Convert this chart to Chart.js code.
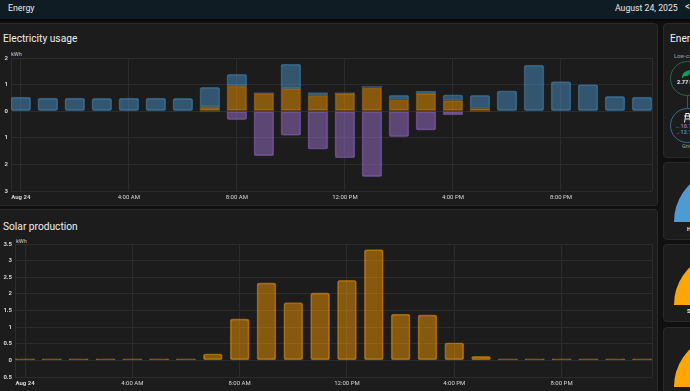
<!DOCTYPE html>
<html><head><meta charset="utf-8"><title>Energy</title>
<script src="https://cdn.jsdelivr.net/npm/chart.js@4/dist/chart.umd.min.js"></script>
<style>
html,body{margin:0;padding:0;width:690px;height:391px;overflow:hidden;background:#101010;font-family:Roboto,sans-serif;color:#e8e8e8}
.abs{position:absolute}
#hdr{left:0;top:0;width:690px;height:19px;background:#0f1c24;box-shadow:0 1px 2px #000}
.card{position:absolute;background:#1c1c1c;border:1px solid #2a2a2a;border-radius:4px;box-sizing:border-box}
.txt{position:absolute;white-space:nowrap}
.title{font-size:10.2px;line-height:14px;color:#eeeeee}
.unit{font-size:5.5px;line-height:6px;color:#d0d0d0}
.small{font-size:5.5px;line-height:7px}
canvas{position:absolute}
</style></head><body>
<div class="abs" id="hdr"></div>
<div class="txt" style="left:8px;top:2px;font-size:8.8px;line-height:12px">Energy</div>
<div class="txt" style="left:615px;top:2px;font-size:8.7px;line-height:12px">August 24, 2025</div>
<div class="txt" style="left:685px;top:1px;font-size:10px;line-height:12px">&lt;</div>

<div class="card" style="left:-3px;top:23px;width:661px;height:183px"></div>
<div class="card" style="left:-3px;top:209px;width:661px;height:190px"></div>
<div class="card" style="left:663px;top:23px;width:40px;height:135px"></div>
<div class="card" style="left:663px;top:162px;width:40px;height:78px"></div>
<div class="card" style="left:663px;top:244px;width:40px;height:78px"></div>
<div class="card" style="left:663px;top:327px;width:40px;height:80px"></div>

<div class="txt title" style="left:3px;top:32px">Electricity usage</div>
<div class="txt unit" style="left:11px;top:51px">kWh</div>
<div class="txt title" style="left:3px;top:220px">Solar production</div>
<div class="txt unit" style="left:16px;top:238px">kWh</div>
<div class="txt title" style="left:670px;top:32px">Energy distribution</div>

<div class="txt small" style="left:674px;top:53px;color:#a8a8a8">Low-carbon</div>
<div class="abs" style="left:670px;top:61px;width:35px;height:35px;border:1px solid #1f6b45;border-radius:50%;box-sizing:border-box"></div>
<svg class="abs" style="left:682px;top:70px" width="9" height="8" viewBox="0 0 9 8"><path d="M0 8C0 3 3 1 8 0 9 4 6 7 2 6L1 8Z" fill="#0f9d58"/></svg>
<div class="txt small" style="left:677px;top:79px;font-weight:700;color:#f0f0f0">2.77 kWh</div>
<div class="abs" style="left:687px;top:96px;width:1px;height:12px;background:#1f6b45"></div>
<div class="abs" style="left:670px;top:108px;width:35px;height:35px;border:1px solid #3d6a8f;border-radius:50%;box-sizing:border-box"></div>
<svg class="abs" style="left:683px;top:113px" width="9" height="10" viewBox="0 0 9 10"><path d="M2.5 0.5H6.5M1 3H8M3 .5 1.5 9.5M6 .5 7.5 9.5M2.5 6H6.5" stroke="#eeeeee" stroke-width="1" fill="none"/></svg>
<div class="txt small" style="left:675px;top:123px;font-weight:700;color:#8e6bc4">&#8592;10.1 kWh</div>
<div class="txt small" style="left:675px;top:129px;font-weight:700;color:#4a8fc0">&#8594;12.1 kWh</div>
<div class="txt small" style="left:682px;top:143px;color:#a8a8a8">Grid</div>
<div class="txt small" style="left:687px;top:226px;font-weight:700">H</div>
<div class="txt small" style="left:687px;top:308px;font-weight:700">S</div>

<canvas id="usage" style="left:0;top:50px"></canvas>
<canvas id="solar" style="left:0;top:236px"></canvas>
<canvas id="g1" style="left:674px;top:169px"></canvas>
<canvas id="g2" style="left:674px;top:252px"></canvas>
<canvas id="g3" style="left:674px;top:334px"></canvas>

<script>
const hours = [0,1,2,3,4,5,6,7,8,9,10,11,12,13,14,15,16,17,18,19,20,21,22,23];
const tickHours = [0,4,8,12,16,20];
const tickLabels = ['Aug 24','4:00 AM','8:00 AM','12:00 PM','4:00 PM','8:00 PM'];
const solarUsed = [0,0,0,0,0,0,0,0.16,0.95,0.68,0.85,0.61,0.67,0.89,0.44,0.67,0.41,0.11,0,0,0,0,0,0];
const gridImport = [0.53,0.49,0.49,0.48,0.49,0.49,0.48,0.74,0.44,0.02,0.92,0.09,0.03,0.05,0.16,0.09,0.21,0.49,0.77,1.73,1.11,1.0,0.56,0.53];
const gridReturn = [0,0,0,0,0,0,0,-0.03,-0.32,-1.68,-0.91,-1.43,-1.76,-2.46,-0.96,-0.71,-0.14,-0.01,0,0,0,0,0,0];
const solarProduction = [0.05,0.05,0.05,0.05,0.05,0.05,0.05,0.2,1.25,2.33,1.74,2.03,2.41,3.33,1.39,1.37,0.53,0.12,0.05,0.05,0.05,0.05,0.05,0.05];
const gaugeValues = [75,75,75];
const gaugeColors = ['#4d9bd4','#ffa600','#ffa600'];

const GRID = '#2c2c2c', TICK = '#d8d8d8';
const points = arr => arr.map((y,i)=>({x:hours[i],y}));
const frame = {id:'frame',afterDatasetsDraw(c){const a=c.chartArea,x=c.ctx;x.save();x.strokeStyle=GRID;x.lineWidth=1;x.beginPath();x.moveTo(Math.round(a.right)+.5,a.top);x.lineTo(Math.round(a.right)+.5,a.bottom);x.stroke();x.restore();}};

function axes(leftW, right, yOpts){
  return {
    x:{type:'linear',stacked:true,offset:false,min:-(leftW.off),max:23+right,
       afterBuildTicks:s=>{s.ticks=tickHours.map(v=>({value:v}));},
       afterFit:s=>{s.height=14;},
       grid:{offset:false,color:GRID,drawTicks:false},border:{display:false},
       ticks:{autoSkip:false,maxRotation:0,padding:3,color:TICK,
         font:c=>({family:'Roboto',size:6,weight:c.index===0?'bold':'normal'}),
         callback:v=>tickLabels[tickHours.indexOf(v)]}},
    y:Object.assign({stacked:true,
       afterFit:s=>{s.width=leftW.w;},
       grid:{color:GRID,drawTicks:false},border:{color:GRID},
       },yOpts)
  };
}
const base = {responsive:false,animation:false,events:[],plugins:{legend:{display:false},tooltip:{enabled:false}}};
function size(id,w,h){const c=document.getElementById(id);c.width=w;c.height=h;c.style.width=w+'px';c.style.height=h+'px';return c;}

new Chart(size('usage',660,155),{type:'bar',plugins:[frame],
  data:{datasets:[
    {data:points(solarUsed),backgroundColor:'rgba(255,160,0,0.47)',borderColor:'rgba(255,160,0,0.3)',stack:'e',
     borderRadius:0},
    {data:points(gridImport),backgroundColor:'rgba(72,143,194,0.5)',borderColor:'rgba(72,143,194,0.5)',stack:'e',
     borderRadius:c=>{const o=solarUsed[c.dataIndex]>0?0:2.5;return {topLeft:2.5,topRight:2.5,bottomLeft:o,bottomRight:o};}},
    {data:points(gridReturn),backgroundColor:'rgba(145,105,190,0.55)',borderColor:'rgba(140,100,200,0.55)',stack:'e',
     borderRadius:{topLeft:0,topRight:0,bottomLeft:2.5,bottomRight:2.5}}
  ]},
  options:Object.assign({},base,{
    layout:{padding:{top:8,right:8,left:0,bottom:0}},
    datasets:{bar:{barThickness:20,borderWidth:1,borderSkipped:false}},
    scales:axes({w:11,off:0.363},0.37,{min:-3,max:2,
      ticks:{stepSize:1,padding:3,color:TICK,font:{family:'Roboto',size:6,weight:'bold'},callback:v=>String(Math.abs(v))}})
  })});

new Chart(size('solar',660,155),{type:'bar',plugins:[frame],
  data:{datasets:[
    {data:points(solarProduction),backgroundColor:'rgba(255,160,0,0.47)',borderColor:'rgba(255,160,0,0.5)',stack:'s',
     borderRadius:c=>solarProduction[c.dataIndex]<0.1?0:2.5}
  ]},
  options:Object.assign({},base,{
    layout:{padding:{top:8,right:8,left:0,bottom:0}},
    datasets:{bar:{barThickness:19,borderWidth:1,borderSkipped:false}},
    scales:axes({w:15,off:0.373},0.37,{min:-0.5,max:3.5,
      ticks:{stepSize:0.5,padding:3,color:TICK,font:{family:'Roboto',size:6,weight:'bold'},callback:v=>String(Math.abs(v))}})
  })});

['g1','g2','g3'].forEach((id,i)=>{
  new Chart(size(id,106,53),{type:'doughnut',
    data:{datasets:[{data:[gaugeValues[i],100-gaugeValues[i]],backgroundColor:[gaugeColors[i],'#2f2f2f'],borderWidth:0}]},
    options:Object.assign({},base,{rotation:-90,circumference:180,cutout:'50%'})});
});
</script>
</body></html>
